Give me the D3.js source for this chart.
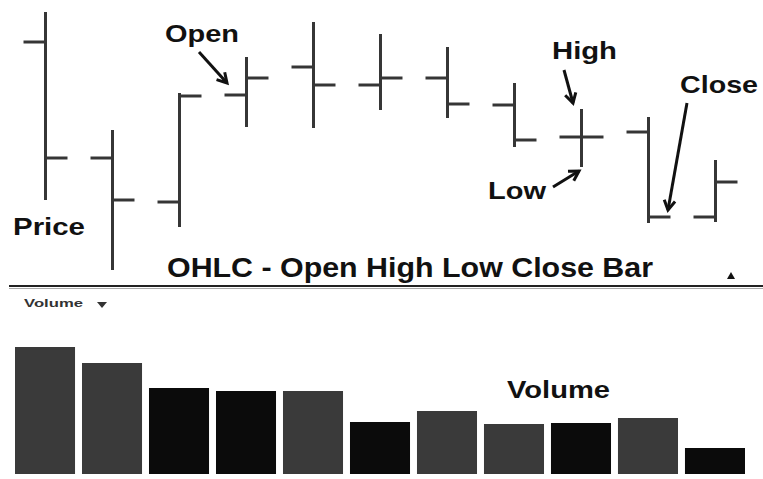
<!DOCTYPE html>
<html>
<head>
<meta charset="utf-8">
<script src="https://cdn.jsdelivr.net/npm/d3@7"></script>
<style>
  html, body { margin: 0; padding: 0; background: #fff; }
  svg { display: block; }
  text { font-family: "Liberation Sans", Arial, sans-serif; font-weight: bold; fill: #111; }
</style>
</head>
<body>
<svg id="chart" width="763" height="479"></svg>
<script>
// ---- data ----
const periods = ["P1","P2","P3","P4","P5","P6","P7","P8","P9","P10","P11"];
const openValues  = [119, 61, 39, 92.5, 106.5, 97.5, 101, 87.5, 71.5, 74, 31.5];
const highValues  = [134, 75, 93.5, 111.5, 129, 123, 116.5, 98.5, 85.5, 81.5, 60];
const lowValues   = [40, 5, 26.5, 76.5, 76, 85, 81, 66.5, 56.5, 28.5, 29];
const closeValues = [61, 40, 92, 101, 97.5, 101, 88, 70, 71.5, 31.5, 49];
const volumeValues = [127, 111, 86, 83, 83, 52, 63, 50, 51, 56, 26];
const priceDomain = [0, 140];
const volumeDomain = [0, 140];

const svg = d3.select("#chart");

const x = d3.scaleBand().domain(periods).range([15, 745]).paddingInner(0.104).paddingOuter(0);
const yP = d3.scaleLinear().domain(priceDomain).range([280, 0]);
const yV = d3.scaleLinear().domain(volumeDomain).range([474, 334]);
const cx = p => x(p) + x.bandwidth() / 2;
const tick = 22;
const ink = "#363636";

const rows = periods.map((p, i) => ({p, o: openValues[i], h: highValues[i], l: lowValues[i], c: closeValues[i], v: volumeValues[i]}));

// ---- OHLC bars ----
const g = svg.append("g");
rows.forEach(d => {
  const xc = Math.round(cx(d.p)) + 0.5;
  g.append("line").attr("x1", xc).attr("x2", xc).attr("y1", yP(d.h)).attr("y2", yP(d.l))
    .attr("stroke", ink).attr("stroke-width", 3);
  g.append("line").attr("x1", xc - tick).attr("x2", xc).attr("y1", yP(d.o)).attr("y2", yP(d.o))
    .attr("stroke", ink).attr("stroke-width", 3);
  g.append("line").attr("x1", xc).attr("x2", xc + tick).attr("y1", yP(d.c)).attr("y2", yP(d.c))
    .attr("stroke", ink).attr("stroke-width", 3);
});

// ---- arrows ----
function arrow(x1, y1, x2, y2) {
  const a = Math.atan2(y2 - y1, x2 - x1);
  const len = 11, spread = Math.PI / 6;
  const p1 = [x2 - len * Math.cos(a - spread), y2 - len * Math.sin(a - spread)];
  const p2 = [x2 - len * Math.cos(a + spread), y2 - len * Math.sin(a + spread)];
  svg.append("line").attr("x1", x1).attr("y1", y1).attr("x2", x2).attr("y2", y2)
    .attr("stroke", "#111").attr("stroke-width", 3);
  svg.append("path").attr("d", `M${p1[0]},${p1[1]}L${x2},${y2}L${p2[0]},${p2[1]}`)
    .attr("fill", "none").attr("stroke", "#111").attr("stroke-width", 3);
}
const r4 = rows[3], r9 = rows[8], r10 = rows[9];
arrow(cx(r4.p) - 47, yP(r4.o) - 43, cx(r4.p) - 19, yP(r4.o) - 12);
arrow(cx(r9.p) - 17, yP(r9.h) - 39, cx(r9.p) - 8, yP(r9.h) - 6);
arrow(cx(r9.p) - 28, yP(r9.l) + 20, cx(r9.p) - 2, yP(r9.l) + 4);
arrow(cx(r10.p) + 39, yP(r10.c) - 114, cx(r10.p) + 20, yP(r10.c) - 7);

// ---- labels ----
function label(t, xx, yy, size, len) {
  svg.append("text").attr("x", xx).attr("y", yy).attr("font-size", size)
    .attr("textLength", len).attr("lengthAdjust", "spacingAndGlyphs").text(t);
}
label("Open", 165, 42, 24, 74);
label("High", 552, 59, 24, 65);
label("Low", 488, 199, 24, 58);
label("Close", 680, 93, 24, 78);
label("Price", 13, 235, 24, 72);
label("OHLC - Open High Low Close Bar", 167, 277, 28, 486);
label("Volume", 507, 398, 24, 103);

// small up triangle
svg.append("path").attr("d", "M727,279L735,279L731,272Z").attr("fill", "#111");

// divider
svg.append("line").attr("x1", 9).attr("x2", 763).attr("y1", 286).attr("y2", 286)
  .attr("stroke", "#222").attr("stroke-width", 2);
svg.append("line").attr("x1", 9).attr("x2", 763).attr("y1", 288.5).attr("y2", 288.5)
  .attr("stroke", "#aaa").attr("stroke-width", 1);

// volume header
svg.append("text").attr("x", 24).attr("y", 307).attr("font-size", 11)
  .attr("textLength", 59).attr("lengthAdjust", "spacingAndGlyphs")
  .style("fill", "#333").text("Volume");
svg.append("path").attr("d", "M97,302L107,302L102,308Z").attr("fill", "#333");

// ---- volume bars ----
svg.append("g").selectAll("rect").data(rows).join("rect")
  .attr("x", d => x(d.p))
  .attr("width", x.bandwidth())
  .attr("y", d => yV(d.v))
  .attr("height", d => yV(0) - yV(d.v))
  .attr("fill", d => d.c >= d.o ? "#0b0b0b" : "#3a3a3a");
</script>
</body>
</html>
